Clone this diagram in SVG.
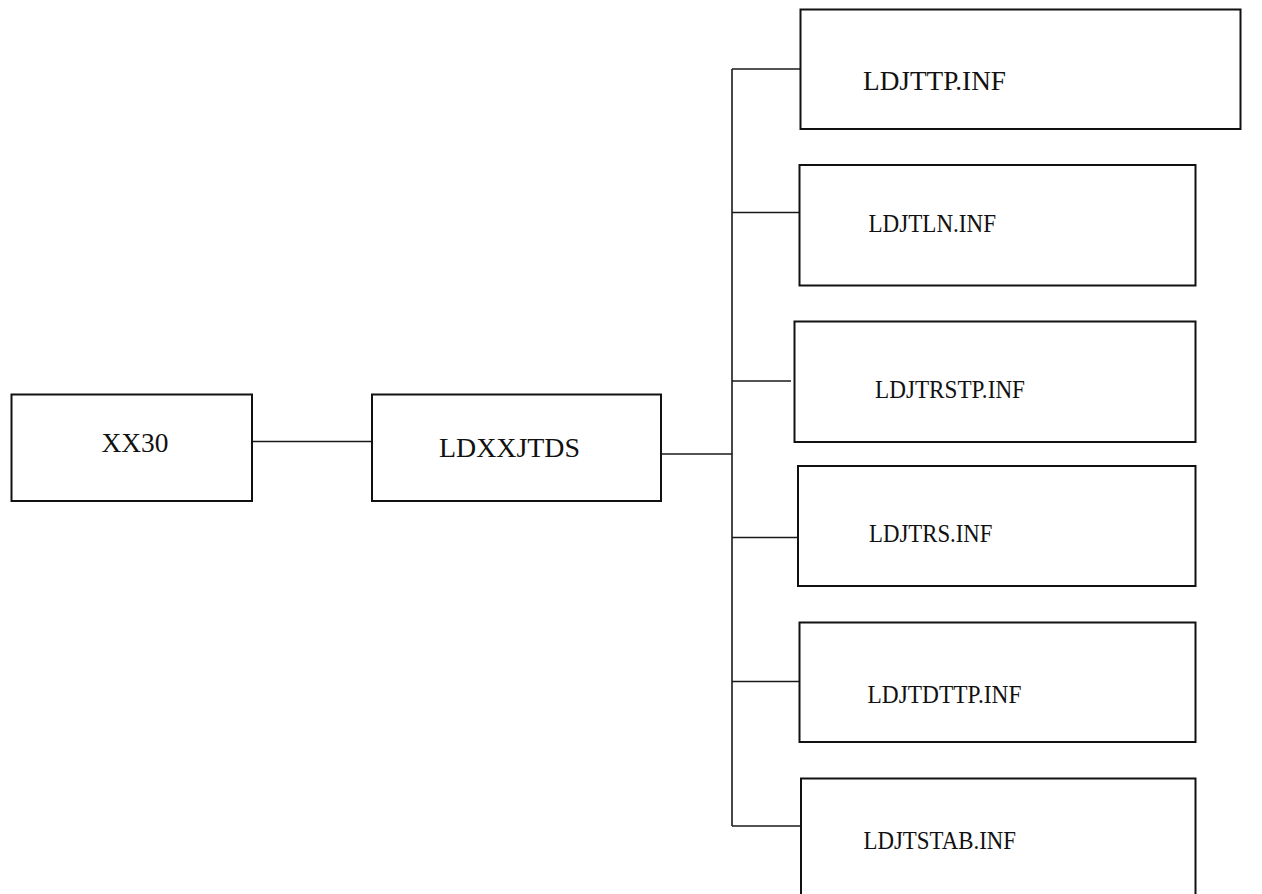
<svg xmlns="http://www.w3.org/2000/svg" width="1262" height="894" viewBox="0 0 1262 894">
  <style>
    .box { fill: #ffffff; stroke: #111111; stroke-width: 2; }
    .wire { fill: none; stroke: #1a1a1a; stroke-width: 1.6; }
    .lbl { font-family: "Liberation Serif", "Times New Roman", serif; fill: #111111; }
    .big { font-size: 28px; }
    .small { font-size: 25px; }
  </style>
  <rect width="1262" height="894" fill="#ffffff"/>

  <!-- connectors -->
  <g id="connectors">
    <line class="wire" x1="252" y1="441.5" x2="372" y2="441.5"/>
    <line class="wire" x1="661" y1="454" x2="732" y2="454"/>
    <!-- vertical trunk -->
    <line class="wire" x1="732" y1="69" x2="732" y2="826"/>
    <line class="wire" x1="732" y1="69" x2="801" y2="69"/>
    <line class="wire" x1="732" y1="212.5" x2="802" y2="212.5"/>
    <line class="wire" x1="732" y1="381" x2="791" y2="381"/>
    <line class="wire" x1="732" y1="537.5" x2="802" y2="537.5"/>
    <line class="wire" x1="732" y1="681.5" x2="802" y2="681.5"/>
    <line class="wire" x1="732" y1="826" x2="801" y2="826"/>
  </g>

  <g id="node-xx30">
    <rect class="box" x="11.5" y="394.5" width="240.5" height="106.5"/>
    <text class="lbl big" x="101.5" y="451.5" textLength="67" lengthAdjust="spacingAndGlyphs">XX30</text>
  </g>

  <g id="node-ldxxjtds">
    <rect class="box" x="372" y="394.5" width="289" height="106.5"/>
    <text class="lbl big" x="439" y="457" textLength="141" lengthAdjust="spacingAndGlyphs">LDXXJTDS</text>
  </g>

  <g id="node-ldjttp">
    <rect class="box" x="800.5" y="9.5" width="440" height="119.5"/>
    <text class="lbl big" x="863" y="89.5" textLength="143" lengthAdjust="spacingAndGlyphs">LDJTTP.INF</text>
  </g>

  <g id="node-ldjtln">
    <rect class="box" x="799.5" y="165" width="396" height="120.5"/>
    <text class="lbl small" x="868.5" y="231.5" textLength="127.5" lengthAdjust="spacingAndGlyphs">LDJTLN.INF</text>
  </g>

  <g id="node-ldjtrstp">
    <rect class="box" x="794.5" y="321.5" width="401" height="120.5"/>
    <text class="lbl small" x="875" y="397.5" textLength="150" lengthAdjust="spacingAndGlyphs">LDJTRSTP.INF</text>
  </g>

  <g id="node-ldjtrs">
    <rect class="box" x="798" y="466" width="397.5" height="120"/>
    <text class="lbl small" x="869" y="541.5" textLength="123.5" lengthAdjust="spacingAndGlyphs">LDJTRS.INF</text>
  </g>

  <g id="node-ldjtdttp">
    <rect class="box" x="799.5" y="622.5" width="396" height="119.5"/>
    <text class="lbl small" x="867.5" y="702.5" textLength="154" lengthAdjust="spacingAndGlyphs">LDJTDTTP.INF</text>
  </g>

  <g id="node-ldjtstab">
    <rect class="box" x="801" y="778.5" width="394.5" height="130"/>
    <text class="lbl small" x="863.5" y="848.5" textLength="152.5" lengthAdjust="spacingAndGlyphs">LDJTSTAB.INF</text>
  </g>
</svg>
